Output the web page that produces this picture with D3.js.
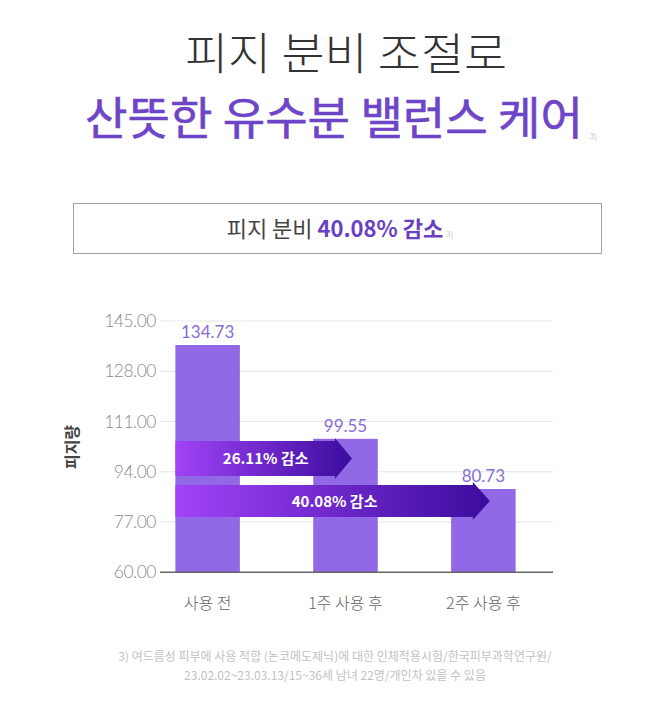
<!DOCTYPE html>
<html><head><meta charset="utf-8">
<script src="https://cdn.jsdelivr.net/npm/d3@7/dist/d3.min.js"></script>
<style>body{margin:0;background:#fff}svg{display:block}</style>
</head><body>
<svg id="c" width="666" height="707"></svg>
<script>
// ---- data ----
const categories = ["사용 전", "1주 사용 후", "2주 사용 후"];
const values = [134.73, 99.55, 80.73];
const valueLabels = ["134.73", "99.55", "80.73"];
const tickValues = [60, 77, 94, 111, 128, 145];
const tickLabels = ["60.00", "77.00", "94.00", "111.00", "128.00", "145.00"];
const arrowFrom = [0, 0];
const arrowTo = [1, 2];
const arrowLabels = ["26.11% 감소", "40.08% 감소"];
const titleLine1 = "피지 분비 조절로";
const titleLine2 = "산뜻한 유수분 밸런스 케어";
const boxTextA = "피지 분비 ";
const boxTextB = "40.08% 감소";
const yAxisTitle = "피지량";
const footnote = ["3) 여드름성 피부에 사용 적합 (논코메도제닉)에 대한 인체적용시험/한국피부과학연구원/",
                  "23.02.02~23.03.13/15~36세 남녀 22명/개인차 있을 수 있음"];

const svg = d3.select("#c");
const KR = "'Noto Sans CJK KR','Noto Sans',sans-serif";
const NUM = "Lato,'Noto Sans',sans-serif";

// gradient
const defs = svg.append("defs");
const g = defs.append("linearGradient").attr("id","arr").attr("x1","0").attr("x2","1").attr("y1","0").attr("y2","0");
g.append("stop").attr("offset","0").attr("stop-color","#a243f7");
g.append("stop").attr("offset","1").attr("stop-color","#3b0c9e");

// titles
svg.append("text").attr("x",346).attr("y",70).attr("text-anchor","middle")
  .attr("font-family",KR).attr("font-weight",300).attr("font-size",44).attr("fill","#333")
  .attr("textLength",322).attr("lengthAdjust","spacingAndGlyphs").text(titleLine1);
svg.append("text").attr("x",334).attr("y",135).attr("text-anchor","middle")
  .attr("font-family",KR).attr("font-weight",400).attr("font-size",45).attr("fill","#6d45c6")
  .attr("stroke","#6d45c6").attr("stroke-width",0.6)
  .attr("textLength",498).attr("lengthAdjust","spacingAndGlyphs").text(titleLine2);
svg.append("text").attr("x",590).attr("y",139).attr("font-family",KR).attr("font-size",8).attr("fill","#bbb").text("3)");

// box
svg.append("rect").attr("x",73.5).attr("y",203.5).attr("width",528).attr("height",50)
  .attr("fill","none").attr("stroke","#a0a0a0").attr("stroke-width",1);
const bt = svg.append("text").attr("x",340).attr("y",237).attr("text-anchor","middle")
  .attr("font-family",KR).attr("font-size",22);
bt.append("tspan").attr("fill","#444").attr("font-weight",400).text(boxTextA);
bt.append("tspan").attr("fill","#6a40c2").attr("font-weight",700).text(boxTextB);
bt.append("tspan").attr("fill","#ccc").attr("font-size",8).attr("dx",3).text("3)");

// scales
const x = d3.scaleBand().domain(categories).range([138.7, 552.3]).paddingInner(0.532).paddingOuter(0.266);
const yAxis = d3.scaleLinear().domain([60,145]).range([572.3, 321]);
const yBar = d3.scaleLinear().domain([49.5,145]).range([572.3, 317.6]);

// gridlines
svg.append("g").selectAll("line").data(tickValues.slice(1)).join("line")
  .attr("x1",160).attr("x2",553).attr("y1",d=>yAxis(d)).attr("y2",d=>yAxis(d))
  .attr("stroke","#e6e6e6").attr("stroke-width",1);
svg.append("g").selectAll("text").data(tickValues).join("text")
  .attr("x",156).attr("y",d=>yAxis(d)+6).attr("text-anchor","end")
  .attr("font-family",NUM).attr("font-weight",300).attr("font-size",17.5).attr("fill","#8c8c8c")
  .attr("letter-spacing",-0.5)
  .text((d,i)=>tickLabels[i]);

// bars
svg.append("g").selectAll("rect").data(values).join("rect")
  .attr("x",(d,i)=>x(categories[i])).attr("width",x.bandwidth())
  .attr("y",d=>yBar(d)).attr("height",d=>yBar.range()[0]-yBar(d))
  .attr("fill","#9169e6");
svg.append("g").selectAll("text").data(values).join("text")
  .attr("x",(d,i)=>x(categories[i])+x.bandwidth()/2).attr("y",d=>yBar(d)-7)
  .attr("text-anchor","middle").attr("font-family",NUM).attr("font-size",17).attr("fill","#8a6cd6")
  .text((d,i)=>valueLabels[i]);

// baseline
svg.append("line").attr("x1",160).attr("x2",553).attr("y1",yAxis(60)).attr("y2",yAxis(60))
  .attr("stroke","#666").attr("stroke-width",1.6);

// x labels
svg.append("g").selectAll("text").data(categories).join("text")
  .attr("x",d=>x(d)+x.bandwidth()/2).attr("y",609).attr("text-anchor","middle")
  .attr("font-family",KR).attr("font-weight",300).attr("font-size",16).attr("fill","#666").text(d=>d);

// y title
svg.append("text").attr("transform","translate(78,447) rotate(-90)").attr("text-anchor","middle")
  .attr("font-family",KR).attr("font-weight",700).attr("font-size",16).attr("fill","#444").text(yAxisTitle);

// arrows
const arrowTop = [441, 485], arrowH = [35, 32];
arrowLabels.forEach((lab,i)=>{
  const x0 = x(categories[arrowFrom[i]]);
  const tip = x(categories[arrowTo[i]]) + x.bandwidth()*0.6;
  const hw = 17, ext = 3;
  const t = arrowTop[i], b = t + arrowH[i], m = (t+b)/2;
  const p = d3.path();
  p.moveTo(x0,t); p.lineTo(tip-hw,t); p.lineTo(tip-hw,t-ext); p.lineTo(tip,m);
  p.lineTo(tip-hw,b+ext); p.lineTo(tip-hw,b); p.lineTo(x0,b); p.closePath();
  svg.append("path").attr("d",p.toString()).attr("fill","url(#arr)");
  svg.append("text").attr("x",(x0+tip)/2+2).attr("y",m+5.5).attr("text-anchor","middle")
    .attr("font-family",KR).attr("font-weight",700).attr("font-size",15).attr("fill","#fff").text(lab);
});

// footnote
svg.append("g").selectAll("text").data(footnote).join("text")
  .attr("x",335).attr("y",(d,i)=>661+i*19).attr("text-anchor","middle")
  .attr("font-family",KR).attr("font-size",12).attr("fill","#c2c2c2").text(d=>d);
</script>
</body></html>
